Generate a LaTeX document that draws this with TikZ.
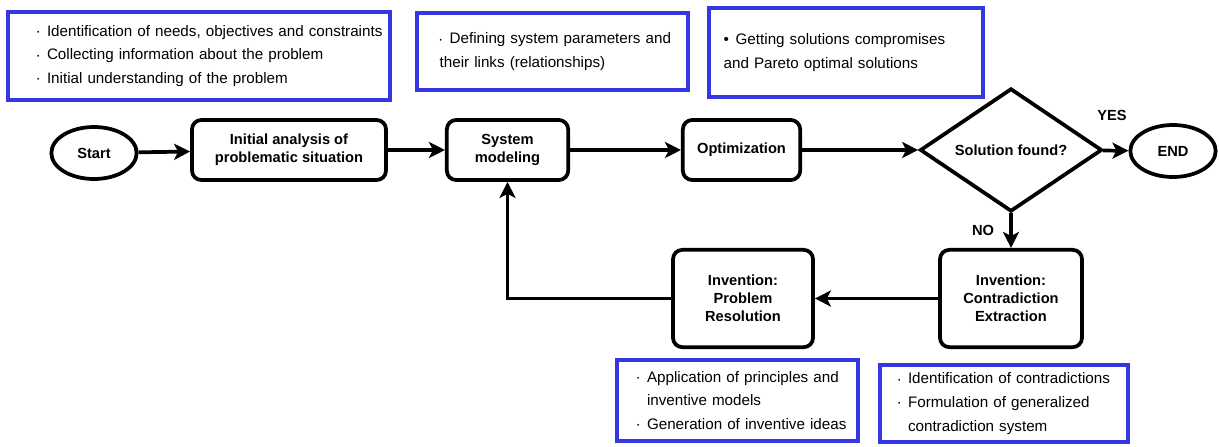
\documentclass[tikz,border=0pt]{standalone}
\usepackage{fontspec}
\setmainfont{Liberation Sans}
\usetikzlibrary{shapes.geometric,arrows.meta}
\definecolor{noteblue}{RGB}{55,55,225}
\newcommand{\bul}{\makebox[7.5pt][l]{\raisebox{1.2pt}{\fontsize{5}{5}\selectfont\textbullet}}}
\newcommand{\gap}{\hspace*{7.5pt}}
\tikzset{
  flow/.style={draw, line width=2.8pt, font=\fontsize{11}{13.5}\selectfont\bfseries, align=center, inner sep=2pt},
  proc/.style={flow, rectangle, rounded corners=7pt, minimum height=45pt},
  term/.style={flow, ellipse, minimum width=64pt, minimum height=39pt},
  note/.style={draw=noteblue, line width=3pt, font=\fontsize{11.4}{17.7}\selectfont, align=left, inner xsep=0pt, inner ysep=0pt, text width=#1},
  arr/.style={line width=2.8pt, -{Stealth[length=12pt,width=12pt,inset=3pt]}}
}
\begin{document}
\begin{tikzpicture}[x=0.75pt,y=-0.75pt]
\useasboundingbox (0,0) rectangle (1219,446);
\node[term] (start) at (94,153){Start};
\node[proc, minimum width=145.5pt] (ana) at (289,150){Initial analysis of\\problematic situation};
\node[proc, minimum width=91pt] (sysm) at (507.5,150){System\\modeling};
\node[proc, minimum width=88pt] (opt) at (741.5,150){Optimization};
\node[flow, diamond, minimum width=136.5pt, minimum height=78pt, inner sep=0pt] (dec) at (1011,150){Solution found?};
\node[term] (fin) at (1173,151){END};
\node[proc, minimum width=106.5pt, minimum height=73pt] (ext) at (1011,298.5){Invention:\\Contradiction\\Extraction};
\node[proc, minimum width=105pt, minimum height=73pt] (res) at (743,298.5){Invention:\\Problem\\Resolution};
\draw[arr] (start) -- (ana);
\draw[arr] (ana) -- (sysm);
\draw[arr] (sysm) -- (opt);
\draw[arr] (opt) -- (dec);
\draw[arr] (dec) -- (fin);
\draw[arr] (dec) -- (ext);
\draw[arr] (ext) -- (res);
\draw[arr] (res.west) -| (sysm.south);
\node[font=\fontsize{11}{12}\selectfont\bfseries] (yes) at (1112,115){YES};
\node[font=\fontsize{11}{12}\selectfont\bfseries] (no) at (983,230){NO};
\node[note=286.5pt, minimum height=66pt] (n1) at (199,56){%
\hspace*{21.75pt}\bul Identification of needs, objectives and constraints\\
\hspace*{21.75pt}\bul Collecting information about the problem\\
\hspace*{21.75pt}\bul Initial understanding of the problem};
\node[note=203.25pt, minimum height=57.75pt] (n2) at (552.5,51.5){%
\hspace*{17pt}\bul Defining system parameters and\\
\hspace*{17pt}their links (relationships)};
\node[note=205.5pt, minimum height=66.75pt] (n3) at (846,52.5){%
\hspace*{11pt}\makebox[9pt][l]{\textbullet}Getting solutions compromises\\
\hspace*{11pt}and Pareto optimal solutions};
\node[note=180.75pt, minimum height=60.75pt] (n4) at (737.5,400.5){%
\hspace*{15pt}\bul Application of principles and\\
\hspace*{15pt}\gap inventive models\\
\hspace*{15pt}\bul Generation of inventive ideas};
\node[note=186pt, minimum height=57.75pt] (n5) at (1004,403.5){%
\hspace*{13.5pt}\bul Identification of contradictions\\
\hspace*{13.5pt}\bul Formulation of generalized\\
\hspace*{13.5pt}\gap contradiction system};
\end{tikzpicture}
\end{document}
